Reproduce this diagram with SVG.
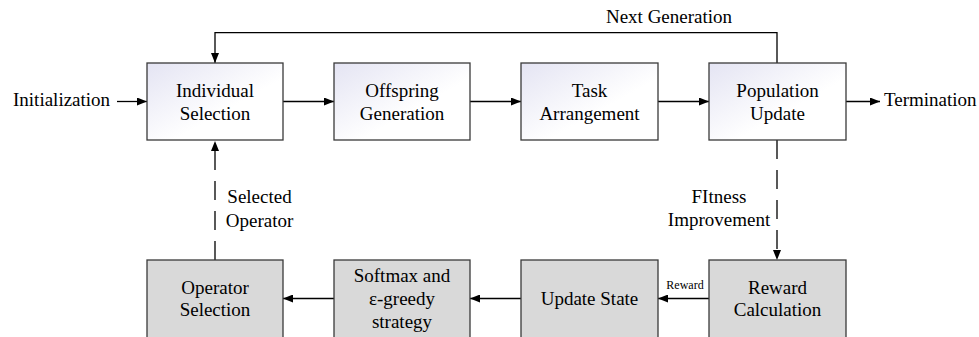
<svg xmlns="http://www.w3.org/2000/svg" width="979" height="337" viewBox="0 0 979 337">
<defs>
<linearGradient id="g" x1="0" y1="0" x2="1" y2="1">
<stop offset="0" stop-color="#e4e4f3"/>
<stop offset="0.6" stop-color="#ffffff"/>
</linearGradient>
<marker id="ah" viewBox="0 0 10 8" refX="10" refY="4" markerWidth="10" markerHeight="8" markerUnits="userSpaceOnUse" orient="auto">
<path d="M0,0 L10,4 L0,8 Z" fill="#000"/>
</marker>
</defs>
<style>
.t{font-family:"Liberation Serif","Times New Roman",serif;font-size:19px;fill:#000}
.c{text-anchor:middle}
.top{fill:url(#g);stroke:#3a3a3a;stroke-width:1.3}
.bot{fill:#d9d9d9;stroke:#3a3a3a;stroke-width:1.3}
.ln{fill:none;stroke:#000;stroke-width:1.3}
.dash{stroke-dasharray:19 11}
</style>
<rect width="979" height="337" fill="#fff"/>
<g id="connectors">
<path class="ln" d="M117,101.5 H147" marker-end="url(#ah)"/>
<path class="ln" d="M283,101.5 H334" marker-end="url(#ah)"/>
<path class="ln" d="M470,101.5 H521" marker-end="url(#ah)"/>
<path class="ln" d="M658,101.5 H709" marker-end="url(#ah)"/>
<path class="ln" d="M846,101.5 H880" marker-end="url(#ah)"/>
<path class="ln" d="M777,63 V32.7 H215 V63" marker-end="url(#ah)"/>
<path class="ln dash" d="M215,260 V141" marker-end="url(#ah)"/>
<path class="ln dash" d="M777,140 V260" marker-end="url(#ah)"/>
<path class="ln" d="M709,298.5 H658" marker-end="url(#ah)"/>
<path class="ln" d="M521,298.5 H470" marker-end="url(#ah)"/>
<path class="ln" d="M334,298.5 H283" marker-end="url(#ah)"/>
<text class="t c" x="669" y="23">Next Generation</text>
<text class="t" x="13" y="106">Initialization</text>
<text class="t" x="884" y="106">Termination</text>
<text class="t c" x="259.5" y="203">Selected</text>
<text class="t c" x="259.5" y="226.5">Operator</text>
<text class="t c" x="719" y="203">FItness</text>
<text class="t c" x="719" y="226">Improvement</text>
<text class="t c" x="685" y="289" style="font-size:12px">Reward</text>
</g>
<g id="individual-selection">
<rect class="top" x="147" y="63" width="136" height="77"/>
<text class="t c" x="215" y="97">Individual</text>
<text class="t c" x="215" y="119.5">Selection</text>
</g>
<g id="offspring-generation">
<rect class="top" x="334" y="63" width="136" height="77"/>
<text class="t c" x="402" y="97">Offspring</text>
<text class="t c" x="402" y="119.5">Generation</text>
</g>
<g id="task-arrangement">
<rect class="top" x="521" y="63" width="137" height="77"/>
<text class="t c" x="589.5" y="97">Task</text>
<text class="t c" x="589.5" y="119.5">Arrangement</text>
</g>
<g id="population-update">
<rect class="top" x="709" y="63" width="137" height="77"/>
<text class="t c" x="777.5" y="97">Population</text>
<text class="t c" x="777.5" y="119.5">Update</text>
</g>
<g id="operator-selection">
<rect class="bot" x="147" y="260" width="136" height="82"/>
<text class="t c" x="215" y="293.5">Operator</text>
<text class="t c" x="215" y="316">Selection</text>
</g>
<g id="softmax">
<rect class="bot" x="334" y="260" width="136" height="82"/>
<text class="t c" x="402" y="281.5">Softmax and</text>
<text class="t c" x="402" y="304.5">ε-greedy</text>
<text class="t c" x="402" y="327.5">strategy</text>
</g>
<g id="update-state">
<rect class="bot" x="521" y="260" width="137" height="82"/>
<text class="t c" x="589.5" y="305">Update State</text>
</g>
<g id="reward-calculation">
<rect class="bot" x="709" y="260" width="137" height="82"/>
<text class="t c" x="777.5" y="293.5">Reward</text>
<text class="t c" x="777.5" y="316">Calculation</text>
</g>
</svg>
